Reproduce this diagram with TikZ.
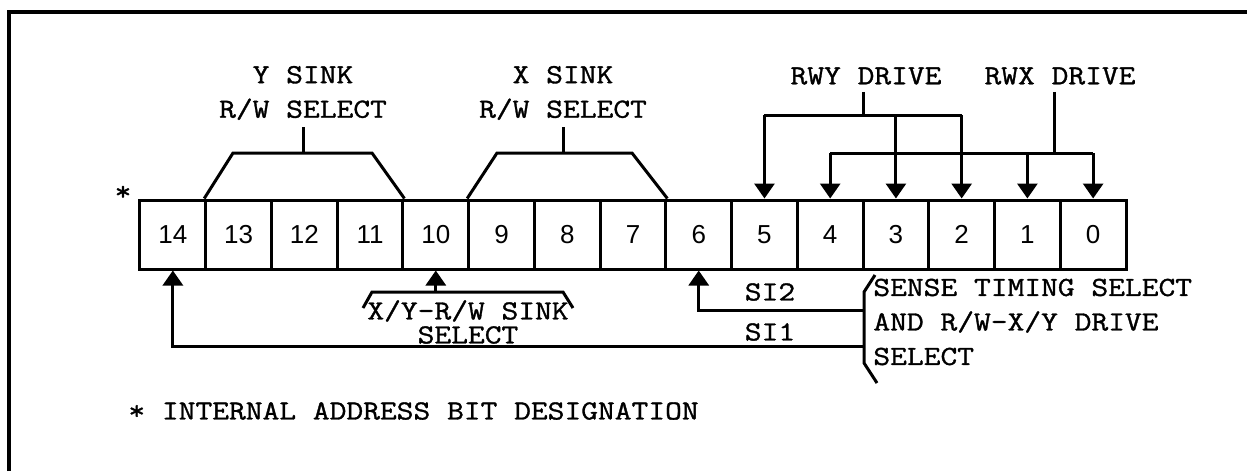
\documentclass[tikz,border=0pt]{standalone}
\usepackage{fontspec}
\newfontfamily\twfont[FakeBold=1.2,FakeStretch=1.18]{Latin Modern Mono}
\newfontfamily\numfont{Liberation Sans}
\usetikzlibrary{arrows.meta}
\begin{document}
\begin{tikzpicture}[x=0.5pt,y=-0.5pt,
  bitbox/.style={draw,line width=1.5pt,minimum width=32.87pt,minimum height=34.5pt,inner sep=0pt,
    font=\numfont\fontsize{13}{15}\selectfont},
  lbl/.style={font=\twfont\fontsize{13.8}{17.25}\selectfont,inner sep=3.5pt,align=center},
  conn/.style={line width=1.5pt},
  arr/.style={conn,-{Triangle[length=7.5pt,width=10pt]}}]
\useasboundingbox (0,0) rectangle (1247,471);
% frame (partly cropped)
\draw[line width=2pt] (9,471) -- (9,12) -- (1247,12);
% bit boxes
\foreach \b in {0,...,14}{
  \pgfmathsetmacro\cx{140+65.733*(14.5-\b)}
  \node[bitbox] (b\b) at (\cx,234.5) {\b};
}
% star
\node[lbl] (star) at (123,193) {*};
% Y sink
\node[lbl] (ys) at (303,93) {Y SINK\\R/W SELECT};
\coordinate (ysh) at (0,153);
\draw[conn] (b13.north west) -- (233,153) -- (372,153) -- (b11.north east);
\draw[conn] (ys.south) -- (ys.south |- ysh);
% X sink
\node[lbl] (xs) at (563,93) {X SINK\\R/W SELECT};
\draw[conn] (b9.north west) -- (497,153) -- (632,153) -- (b7.north east);
\draw[conn] (xs.south) -- (xs.south |- ysh);
% RWY drive
\node[lbl] (rwy) at (866,76) {RWY DRIVE};
\coordinate (rwyh) at (0,115);
\draw[conn] ([xshift=-1.5pt]rwy.south) -- ([xshift=-1.5pt]rwy.south |- rwyh);
\draw[conn] (b5.north |- rwyh) -- (b2.north |- rwyh);
\draw[arr] (b5.north |- rwyh) -- (b5.north);
\draw[arr] (b3.north |- rwyh) -- (b3.north);
\draw[arr] (b2.north |- rwyh) -- (b2.north);
% RWX drive
\node[lbl] (rwx) at (1060,76) {RWX DRIVE};
\coordinate (rwxh) at (0,153);
\draw[conn] ([xshift=-3pt]rwx.south) -- ([xshift=-3pt]rwx.south |- rwxh);
\draw[conn] (b4.north |- rwxh) -- (b0.north |- rwxh);
\draw[arr] (b4.north |- rwxh) -- (b4.north);
\draw[arr] (b1.north |- rwxh) -- (b1.north);
\draw[arr] (b0.north |- rwxh) -- (b0.north);
% X/Y-R/W sink select
\coordinate (xyh) at (0,292);
\draw[conn] (363,308) -- (372,292) -- (563,292) -- (573,308);
\draw[arr] (b10.south |- xyh) -- (b10.south);
\node[lbl,font=\twfont\fontsize{13.8}{12}\selectfont] (xyt) at (468,322) {X/Y-R/W SINK\\SELECT};
% sense timing select
\coordinate (si1) at (864,346);
\coordinate (si2) at (864,310);
\draw[arr] (si1) -- (b14.south |- si1) -- (b14.south);
\draw[arr] (si2) -- (b6.south |- si2) -- (b6.south);
\draw[conn] (875,275) -- (864,292) -- (864,363) -- (877,383);
\node[lbl] (si2t) at (770,292) {SI2};
\node[lbl] (si1t) at (770,332) {SI1};
\node[lbl,align=left,anchor=west] (sts) at (866,322) {SENSE TIMING SELECT\\AND R/W-X/Y DRIVE\\SELECT};
% footnote
\node[lbl,anchor=west] (note) at (121,411) {* INTERNAL ADDRESS BIT DESIGNATION};
\end{tikzpicture}
\end{document}
